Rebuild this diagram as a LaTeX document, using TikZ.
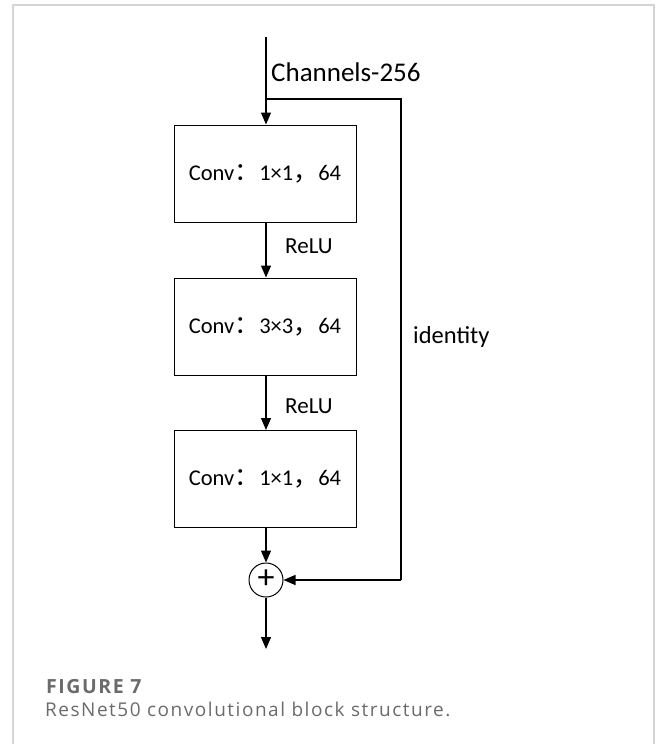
\documentclass[tikz,border=0pt]{standalone}
\usepackage{fontspec}
\setmainfont{Carlito}
\newfontfamily\cjk{Noto Sans CJK SC}
\newfontfamily\capfont[LetterSpace=8]{Open Sans}
\usetikzlibrary{arrows.meta}
\definecolor{capgray}{HTML}{6B6B6B}
\definecolor{framegray}{HTML}{D4D4D4}
\newcommand{\fw}[1]{{\cjk\fontsize{25}{26}\selectfont #1}}
\tikzset{
  conn/.style={line width=1.3pt,-{Triangle[width=10pt,length=12pt]}},
  plainline/.style={line width=1.3pt},
  convbox/.style={draw,line width=1pt,minimum width=182pt,minimum height=97pt,inner sep=0pt,font=\fontsize{22.5}{26}\selectfont},
  lbl/.style={font=\fontsize{23}{26}\selectfont,inner sep=0pt,anchor=base west},
  sumnode/.style={draw,circle,line width=1pt,minimum size=34pt,inner sep=0pt,font=\fontsize{34}{34}\selectfont}
}
\begin{document}
\begin{tikzpicture}[x=1pt,y=-1pt]
\useasboundingbox (0,0) rectangle (656,744);
\draw[framegray,line width=1.5pt] (13,744) -- (13,5) -- (654,5) -- (654,744);
\coordinate (in) at (266,37);
\coordinate (split) at (266,99);
\coordinate (cornerA) at (401,99);
\coordinate (cornerB) at (401,580);
\coordinate (out) at (266,649);
\node[convbox] (c1) at (265,173.5) {Conv\fw{：}1×1\fw{，}64};
\node[convbox] (c2) at (265,326.5) {Conv\fw{：}3×3\fw{，}64};
\node[convbox] (c3) at (265,479) {Conv\fw{：}1×1\fw{，}64};
\node[sumnode] (sum) at (266,580) {\raisebox{1.5pt}{+}};
\node[lbl,font=\fontsize{27}{30}\selectfont] (chl) at (271,81) {Channels-256};
\node[lbl] (r1) at (285,253) {ReLU};
\node[lbl] (r2) at (285,413) {ReLU};
\node[lbl,font=\fontsize{24.5}{28}\selectfont] (idl) at (413,343) {identity};
\draw[conn] (in) -- (c1.north -| in);
\draw[conn] (c1.south -| in) -- (c2.north -| in);
\draw[conn] (c2.south -| in) -- (c3.north -| in);
\draw[conn] (c3.south -| in) -- (sum.north);
\draw[conn] (sum.south) -- (out);
\draw[plainline] (split) -- (cornerA) -- (cornerB);
\draw[conn] (cornerB) -- (sum.east);
\node[anchor=base west,inner sep=0pt,text=capgray,font=\capfont\bfseries\fontsize{19.5}{22}\selectfont] (fig) at (46,693) {FIGURE 7};
\node[anchor=base west,inner sep=0pt,text=capgray,font=\capfont\fontsize{19}{22}\selectfont] (cap) at (45,716) {ResNet50 convolutional block structure.};
\end{tikzpicture}
\end{document}
